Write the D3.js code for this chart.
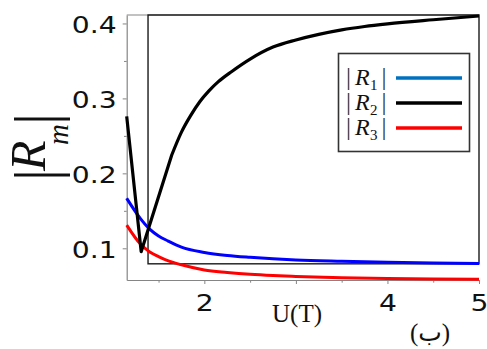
<!DOCTYPE html>
<html>
<head>
<meta charset="utf-8">
<script src="https://cdn.jsdelivr.net/npm/d3@7"></script>
<style>
  html, body { margin: 0; padding: 0; background: #fff; }
  svg { display: block; }
</style>
</head>
<body>
<svg id="chart" width="487" height="349"></svg>
<script>
// |R1| and |R3| sampled on a common U grid
const uGrid = [1.152, 1.3, 1.4, 1.5, 1.6, 1.75, 2.0, 2.25, 2.5, 2.75, 3.0, 3.5, 4.0, 4.5, 5.0];
const r1 = [0.1667, 0.140, 0.126, 0.1165, 0.110, 0.1015, 0.0945, 0.0905, 0.088, 0.086, 0.0845, 0.0828, 0.0815, 0.0805, 0.0798];
const r3 = [0.131, 0.106, 0.0955, 0.089, 0.0835, 0.078, 0.0711, 0.0678, 0.0653, 0.0636, 0.0624, 0.0608, 0.0598, 0.0591, 0.0586];

// |R2| has a sharp minimum, so it gets its own grid
const uBlack = [1.152, 1.31, 1.644, 1.75, 1.85, 1.95, 2.05, 2.15, 2.3, 2.5, 2.75, 3.0, 3.25, 3.5, 3.75, 4.0, 4.5, 5.0];
const r2 = [0.276, 0.0955, 0.2244, 0.255, 0.277, 0.2955, 0.310, 0.322, 0.336, 0.3525, 0.3685, 0.378, 0.3855, 0.3915, 0.396, 0.3995, 0.405, 0.410];
// the dip of |R2| is drawn with straight segments up to this index, smooth after
const r2Kink = 2;

// axis extents and ticks
const uDomain = [1.152, 5];
const rDomain = [0.0577, 0.4113];
const xMajor = [2, 3, 4, 5];
const xLabelled = [2, 4, 5];
const xMinor = [1.5, 2.5, 3.5, 4.5];
const yMajor = [0.1, 0.2, 0.3, 0.4];
const yMinor = [0.15, 0.25, 0.35];

// framed region inside the plot
const boxU = [1.385, 5];
const boxR = [0.0793, 0.4113];

const seriesNames = ["R", "R", "R"];
const seriesSubs = ["1", "2", "3"];
const curveColors = ["#0000ff", "#000000", "#ff0000"];
const legendColors = ["#0070c0", "#000000", "#ff0000"];

const svg = d3.select("#chart");
const x = d3.scaleLinear().domain(uDomain).range([126.7, 479]);
const y = d3.scaleLinear().domain(rDomain).range([280, 15]);

const axisColor = "#858585";

// top spine
svg.append("line")
  .attr("x1", x(uDomain[0])).attr("x2", x(uDomain[1]))
  .attr("y1", y(rDomain[1])).attr("y2", y(rDomain[1]))
  .attr("stroke", axisColor).attr("stroke-width", 1.2);

// minor ticks
svg.append("g").attr("transform", `translate(0,${y(rDomain[0])})`)
  .call(d3.axisBottom(x).tickValues(xMinor).tickSize(2.7).tickSizeOuter(0).tickFormat(""))
  .call(g => g.select(".domain").remove())
  .call(g => g.selectAll("line").attr("stroke", axisColor));
svg.append("g").attr("transform", `translate(${x(uDomain[0])},0)`)
  .call(d3.axisLeft(y).tickValues(yMinor).tickSize(2.7).tickSizeOuter(0).tickFormat(""))
  .call(g => g.select(".domain").remove())
  .call(g => g.selectAll("line").attr("stroke", axisColor));

// major x axis
const gx = svg.append("g").attr("transform", `translate(0,${y(rDomain[0])})`)
  .call(d3.axisBottom(x).tickValues(xMajor).tickSize(4).tickSizeOuter(0)
    .tickFormat(d => xLabelled.includes(d) ? d3.format("d")(d) : ""));
gx.select(".domain").attr("stroke", axisColor).attr("stroke-width", 1.2);
gx.selectAll("line").attr("stroke", axisColor);
gx.selectAll("text")
  .attr("y", 31.5).attr("dy", "0")
  .attr("x", 0)
  .attr("transform", "scale(1.2,1)")
  .attr("fill", "#111")
  .style("font-family", "DejaVu Sans, sans-serif")
  .style("font-size", "23.5px");

// major y axis
const gy = svg.append("g").attr("transform", `translate(${x(uDomain[0])},0)`)
  .call(d3.axisLeft(y).tickValues(yMajor).tickSize(4).tickSizeOuter(0).tickFormat(d3.format(".1f")));
gy.select(".domain").attr("stroke", axisColor).attr("stroke-width", 1.2);
gy.selectAll("line").attr("stroke", axisColor);
gy.selectAll("text")
  .attr("x", -8.4).attr("y", 9.4).attr("dy", "0")
  .attr("transform", "scale(1.2,1)")
  .attr("fill", "#111")
  .style("font-family", "DejaVu Sans, sans-serif")
  .style("font-size", "23.5px");

// framed region
svg.append("rect")
  .attr("x", x(boxU[0])).attr("y", y(boxR[1]))
  .attr("width", x(boxU[1]) - x(boxU[0]))
  .attr("height", y(boxR[0]) - y(boxR[1]))
  .attr("fill", "none").attr("stroke", "#1a1a1a").attr("stroke-width", 1.4);

// curves
const smooth = d3.line().x(d => x(d[0])).y(d => y(d[1])).curve(d3.curveMonotoneX);
const straight = d3.line().x(d => x(d[0])).y(d => y(d[1]));

svg.append("path").datum(uGrid.map((u, i) => [u, r3[i]]))
  .attr("d", smooth).attr("fill", "none")
  .attr("stroke", curveColors[2]).attr("stroke-width", 3);
svg.append("path").datum(uGrid.map((u, i) => [u, r1[i]]))
  .attr("d", smooth).attr("fill", "none")
  .attr("stroke", curveColors[0]).attr("stroke-width", 3);

const r2Points = uBlack.map((u, i) => [u, r2[i]]);
svg.append("path")
  .attr("d", straight(r2Points.slice(0, r2Kink + 1)) + smooth(r2Points.slice(r2Kink)).replace(/^M/, "L"))
  .attr("fill", "none")
  .attr("stroke", curveColors[1]).attr("stroke-width", 3.2)
  .attr("stroke-linejoin", "round");

// legend
const legend = svg.append("g");
legend.append("rect")
  .attr("x", 338.5).attr("y", 53.5).attr("width", 131).attr("height", 98)
  .attr("fill", "#fff").attr("stroke", "#333").attr("stroke-width", 1.6);

seriesSubs.forEach((s, i) => {
  const base = 85 + i * 25;
  const t = legend.append("text")
    .attr("y", base)
    .attr("fill", "#111")
    .style("font-family", "Liberation Serif, serif");
  t.append("tspan").attr("x", 346).style("font-size", "25px").attr("fill", "#333").text("|");
  t.append("tspan").attr("x", 355).style("font-size", "24px").style("font-style", "italic").text(seriesNames[i]);
  t.append("tspan").attr("x", 370).attr("y", base + 4.5).style("font-size", "15px").text(s);
  t.append("tspan").attr("x", 381.5).attr("y", base).style("font-size", "25px").attr("fill", "#333").text("|");
  legend.append("line")
    .attr("x1", 396).attr("x2", 462)
    .attr("y1", base - 7).attr("y2", base - 7)
    .attr("stroke", legendColors[i]).attr("stroke-width", 3.5);
});

// y axis title |R_m|
const yt = svg.append("g").attr("transform", "translate(45,175) rotate(-90)")
  .append("text")
  .attr("fill", "#111")
  .style("font-family", "Liberation Serif, serif");
yt.append("tspan").attr("x", 0).attr("y", 12.4).attr("text-anchor", "middle").style("font-size", "62px").text("|");
yt.append("tspan").attr("x", 4).attr("y", 0).attr("text-anchor", "start").style("font-size", "50px").style("font-style", "italic").text("R");
yt.append("tspan").attr("x", 30).attr("y", 23).attr("text-anchor", "start").style("font-size", "29px").style("font-style", "italic").text("m");
yt.append("tspan").attr("x", 56).attr("y", 12.4).attr("text-anchor", "middle").style("font-size", "62px").text("|");

// x axis title
svg.append("text")
  .attr("x", 297).attr("y", 321.5)
  .attr("text-anchor", "middle")
  .attr("fill", "#111")
  .style("font-family", "Liberation Serif, serif")
  .style("font-size", "25px")
  .text("U(T)");

// panel tag
svg.append("text")
  .attr("x", 430).attr("y", 340.5)
  .attr("text-anchor", "middle")
  .attr("fill", "#111")
  .style("font-family", "Liberation Serif, DejaVu Sans, serif")
  .style("font-size", "25px")
  .text("(ب)");
</script>
</body>
</html>
